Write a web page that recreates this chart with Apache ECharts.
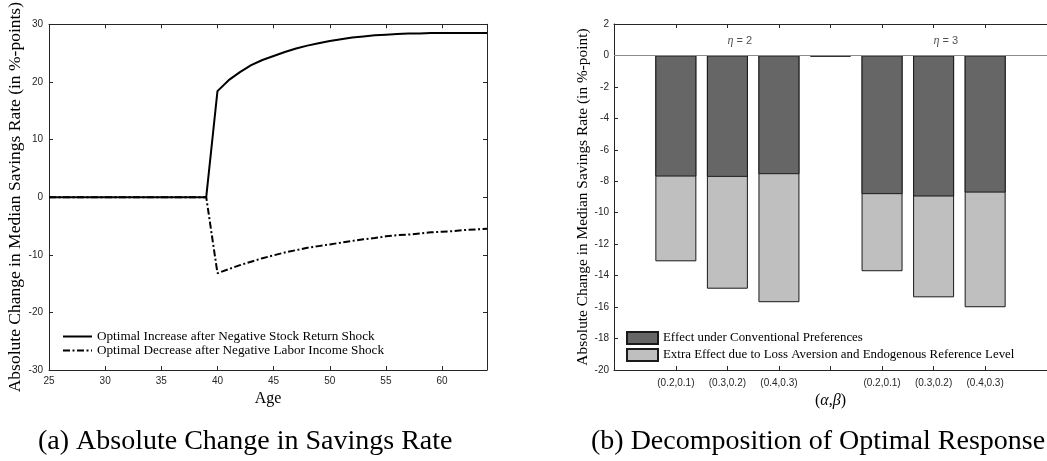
<!DOCTYPE html>
<html><head><meta charset="utf-8">
<script src="https://cdn.jsdelivr.net/npm/echarts@6/dist/echarts.min.js"></script>
<style>html,body{margin:0;padding:0;background:#fff}#c{width:1047px;height:461px}</style>
</head><body><div id="c"></div>
<script>
// ---- Data (a): absolute change in median savings rate by age ----
const ages = [25,26,27,28,29,30,31,32,33,34,35,36,37,38,39,40,41,42,43,44,45,46,47,48,49,50,51,52,53,54,55,56,57,58,59,60,61,62,63,64];
const stockShock = [0,0,0,0,0,0,0,0,0,0,0,0,0,0,0,
  18.4,20.3,21.7,22.9,23.8,24.5,25.2,25.8,26.3,26.7,27.1,27.4,27.7,27.9,28.1,28.2,28.3,28.4,28.4,28.5,28.5,28.5,28.5,28.5,28.5];
const laborShock = [0,0,0,0,0,0,0,0,0,0,0,0,0,0,0,
  -13.2,-12.5,-11.8,-11.2,-10.6,-10.1,-9.6,-9.2,-8.8,-8.5,-8.2,-7.9,-7.6,-7.3,-7.1,-6.8,-6.6,-6.5,-6.3,-6.1,-6.0,-5.9,-5.7,-5.6,-5.5];
const ageTicks = [25,30,35,40,45,50,55,60];
const lineNames = ['Optimal Increase after Negative Stock Return Shock','Optimal Decrease after Negative Labor Income Shock'];

// ---- Data (b): decomposition ----
const barPositions = [1,2,3,4,5,6,7];
const barTickLabels = ['(0.2,0.1)','(0.3,0.2)','(0.4,0.3)','','(0.2,0.1)','(0.3,0.2)','(0.4,0.3)'];
const conventional = [-7.70,-7.72,-7.55,-0.06,-8.82,-8.97,-8.72];
const extraEffect = [-5.39,-7.11,-8.14,0,-4.90,-6.41,-7.29];
const barNames = ['Effect under Conventional Preferences','Extra Effect due to Loss Aversion and Endogenous Reference Level'];
const etaPositions = [2,6];
const etaLevel = [0.9,0.9];
const etaValues = [2,3];

const captions = ['(a) Absolute Change in Savings Rate','(b) Decomposition of Optimal Response'];

const AX = '#262626';
const serif = 'Liberation Serif';
const sans = 'Liberation Sans';
const tickLbl = {color: AX, fontFamily: sans, fontSize: 10};
const axLine = {show: true, onZero: false, lineStyle: {color: AX, width: 1}};

const chart = echarts.init(document.getElementById('c'), null, {renderer: 'canvas'});

const option = {
  animation: false,
  backgroundColor: '#fff',
  title: [
    {text: captions[0], left: 38, top: 428, padding: 0,
     textStyle: {fontFamily: serif, fontSize: 28, fontWeight: 'normal', color: '#000'}},
    {text: captions[1], left: 591, top: 428, padding: 0,
     textStyle: {fontFamily: serif, fontSize: 28, fontWeight: 'normal', color: '#000'}}
  ],
  legend: [
    {data: lineNames, orient: 'vertical', left: 62, top: 330, itemWidth: 29, itemHeight: 14, itemGap: 1,
     padding: 0, itemStyle: {color: 'rgba(0,0,0,0)', borderColor: 'rgba(0,0,0,0)', borderWidth: 0},
     textStyle: {fontFamily: serif, fontSize: 13.2, color: '#000'}},
    {data: barNames, orient: 'vertical', left: 626, top: 331, itemWidth: 31, itemHeight: 12, itemGap: 3,
     padding: 0, icon: 'rect', textStyle: {fontFamily: serif, fontSize: 12.9, color: '#000'}}
  ],
  grid: [
    {left: 49, top: 24, width: 438, height: 346},
    {left: 614, top: 24, right: -2, height: 346}
  ],
  xAxis: [
    {gridIndex: 0, type: 'value', min: 25, max: 64, position: 'bottom',
     axisLine: axLine, splitLine: {show: false},
     axisTick: {inside: true, length: 4, customValues: ageTicks, lineStyle: {color: AX}},
     axisLabel: Object.assign({customValues: ageTicks, margin: 6}, tickLbl),
     name: 'Age', nameLocation: 'middle', nameGap: 18,
     nameTextStyle: {fontFamily: serif, fontSize: 16, color: '#000'}},
    {gridIndex: 0, type: 'value', min: 25, max: 64, position: 'top',
     axisLine: axLine, splitLine: {show: false},
     axisTick: {inside: true, length: 4, customValues: ageTicks, lineStyle: {color: AX}},
     axisLabel: {show: false}},
    {gridIndex: 1, type: 'value', min: -0.2, max: 8.2, position: 'bottom',
     axisLine: axLine, splitLine: {show: false},
     axisTick: {inside: true, length: 4, customValues: barPositions, lineStyle: {color: AX}},
     axisLabel: Object.assign({customValues: barPositions.filter((p, i) => barTickLabels[i] !== ''), margin: 8,
       formatter: v => barTickLabels[barPositions.indexOf(v)]}, tickLbl),
     name: '({g|α},{g|β})', nameLocation: 'middle', nameGap: 18,
     nameTextStyle: {fontFamily: serif, fontSize: 16, color: '#000',
       rich: {g: {fontFamily: serif, fontSize: 16, fontStyle: 'italic', color: '#000'}}}},
    {gridIndex: 1, type: 'value', min: -0.2, max: 8.2, position: 'top',
     axisLine: axLine, splitLine: {show: false},
     axisTick: {inside: true, length: 4, customValues: barPositions, lineStyle: {color: AX}},
     axisLabel: {show: false}}
  ],
  yAxis: [
    {gridIndex: 0, type: 'value', min: -30, max: 30, interval: 10, position: 'left',
     axisLine: axLine, splitLine: {show: false},
     axisTick: {inside: true, length: 4, lineStyle: {color: AX}},
     axisLabel: Object.assign({margin: 6}, tickLbl),
     name: 'Absolute Change in Median Savings Rate (in %-points)', nameLocation: 'middle', nameGap: 25,
     nameTextStyle: {fontFamily: serif, fontSize: 17.5, color: '#000'}},
    {gridIndex: 0, type: 'value', min: -30, max: 30, interval: 10, position: 'right',
     axisLine: axLine, splitLine: {show: false},
     axisTick: {inside: true, length: 4, lineStyle: {color: AX}},
     axisLabel: {show: false}},
    {gridIndex: 1, type: 'value', min: -20, max: 2, interval: 2, position: 'left',
     axisLine: axLine, splitLine: {show: false},
     axisTick: {inside: true, length: 4, lineStyle: {color: AX}},
     axisLabel: Object.assign({margin: 5}, tickLbl),
     name: 'Absolute Change in Median Savings Rate (in %-point)', nameLocation: 'middle', nameGap: 14,
     nameTextStyle: {fontFamily: serif, fontSize: 15.4, color: '#000'}}
  ],
  series: [
    {name: lineNames[0], type: 'line', xAxisIndex: 0, yAxisIndex: 0, symbol: 'none',
     data: ages.map((a, i) => [a, stockShock[i]]),
     lineStyle: {color: '#000', width: 2}, itemStyle: {color: '#000'}},
    {name: lineNames[1], type: 'line', xAxisIndex: 0, yAxisIndex: 0, symbol: 'none',
     data: ages.map((a, i) => [a, laborShock[i]]),
     lineStyle: {color: '#000', width: 2, type: [7, 2.5, 2, 2.5]}, itemStyle: {color: '#000'}},
    // light bars: full response (conventional + extra), drawn first
    {name: barNames[1], type: 'bar', xAxisIndex: 2, yAxisIndex: 2, barWidth: 41, barGap: '-100%', z: 2,
     data: barPositions.map((p, i) => [p, conventional[i] + extraEffect[i]]),
     itemStyle: {color: '#bfbfbf', borderColor: '#1a1a1a', borderWidth: 1}},
    // dark bars: conventional part, drawn on top
    {name: barNames[0], type: 'bar', xAxisIndex: 2, yAxisIndex: 2, barWidth: 41, barGap: '-100%', z: 3,
     data: barPositions.map((p, i) => [p, conventional[i]]),
     itemStyle: {color: '#666666', borderColor: '#1a1a1a', borderWidth: 1},
     markLine: {silent: true, symbol: 'none', label: {show: false},
       lineStyle: {color: '#8c8c8c', width: 1, type: 'solid'}, data: [{yAxis: 0}]}},
    {type: 'scatter', xAxisIndex: 2, yAxisIndex: 2, symbolSize: 0, silent: true, z: 4,
     data: etaPositions.map((p, i) => ({value: [p, etaLevel[i]], eta: etaValues[i]})),
     label: {show: true, position: 'right', distance: 0, color: AX, fontFamily: sans, fontSize: 11,
       formatter: p => '{g|η} = ' + p.data.eta,
       rich: {g: {fontFamily: serif, fontStyle: 'italic', fontSize: 12, color: AX}}}}
  ]
};
chart.setOption(option);
</script>
</body></html>
